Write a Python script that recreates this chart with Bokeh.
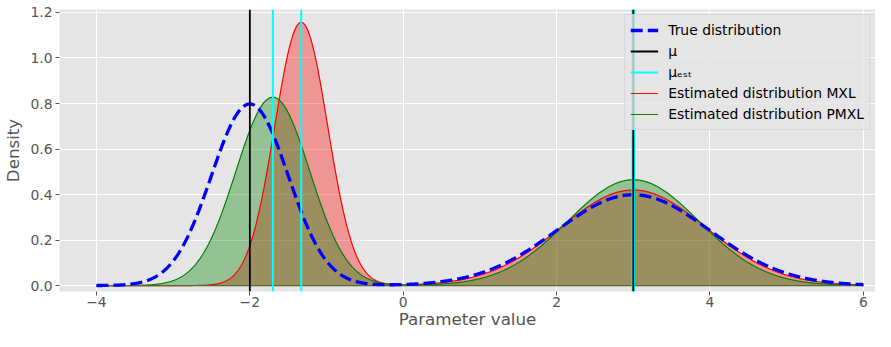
import numpy as np
from bokeh.plotting import figure
from bokeh.models import Range1d, Legend, LegendItem, FixedTicker
from bokeh.embed import file_html
from bokeh.resources import INLINE

# ---- data ----
x_min, x_max = -4.0, 6.0                 # span over which densities are drawn
true_means = [-2.0, 3.0]
true_sds = [0.5, 1.0]
mxl_means = [-1.33, 3.0]
mxl_sds = [0.345, 0.95]
pmxl_means = [-1.70, 3.0]
pmxl_sds = [0.482, 0.858]
mu_values = [-2.0, 3.0]
mu_est_values = [-1.70, -1.33, 2.99, 3.01]

x_ticks = [-4, -2, 0, 2, 4, 6]
x_tick_labels = ["\u22124", "\u22122", "0", "2", "4", "6"]
y_ticks = [0.0, 0.2, 0.4, 0.6, 0.8, 1.0, 1.2]
y_tick_labels = ["0.0", "0.2", "0.4", "0.6", "0.8", "1.0", "1.2"]

legend_labels = ["True distribution", "\u03bc", "\u03bc\u2091\u209b\u209c",
                 "Estimated distribution MXL", "Estimated distribution PMXL"]


def mixture_density(x, means, sds):
    out = np.zeros_like(x)
    for m, s in zip(means, sds):
        out += np.exp(-0.5 * ((x - m) / s) ** 2) / (s * np.sqrt(2 * np.pi))
    return out


xs = np.linspace(x_min, x_max, 2001)
y_true = mixture_density(xs, true_means, true_sds)
y_mxl = mixture_density(xs, mxl_means, mxl_sds)
y_pmxl = mixture_density(xs, pmxl_means, pmxl_sds)

y_lo, y_hi = -0.026, 1.213
p = figure(width=875, height=331, output_backend="svg", toolbar_location=None,
           x_range=Range1d(-4.482, 6.158), y_range=Range1d(y_lo, y_hi),
           min_border_left=58, min_border_right=0, min_border_top=9,
           min_border_bottom=30)
p.background_fill_color = "#E5E5E5"
p.border_fill_color = "white"
p.outline_line_color = None

# grid
p.xgrid.grid_line_color = "white"
p.ygrid.grid_line_color = "white"
p.xgrid.grid_line_width = 1.1
p.ygrid.grid_line_width = 1.1

# fills
p.varea(x=xs, y1=0, y2=y_mxl, fill_color="red", fill_alpha=0.35)
p.varea(x=xs, y1=0, y2=y_pmxl, fill_color="green", fill_alpha=0.35)
r_mxl = p.line(xs, y_mxl, line_color="red", line_width=1.2)
r_pmxl = p.line(xs, y_pmxl, line_color="green", line_width=1.2)
p.line([x_min, x_max], [0, 0], line_color="#556B2F", line_width=1.2)
r_true = p.line(xs, y_true, line_color="blue", line_width=3.3, line_dash="12 5")

# vertical lines
r_est = p.segment(x0=mu_est_values, x1=mu_est_values,
                  y0=[y_lo] * len(mu_est_values), y1=[y_hi] * len(mu_est_values),
                  line_color="cyan", line_width=2)
r_mu = p.segment(x0=mu_values, x1=mu_values,
                 y0=[y_lo] * len(mu_values), y1=[y_hi] * len(mu_values),
                 line_color="black", line_width=1.8)

# axes
font = "DejaVu Sans"
for ax in (p.xaxis[0], p.yaxis[0]):
    ax.axis_line_color = None
    ax.major_tick_in = 0
    ax.major_tick_out = 4
    ax.major_tick_line_color = "#555555"
    ax.minor_tick_line_color = None
    ax.major_label_text_font = font
    ax.major_label_text_font_size = "13.9px"
    ax.major_label_text_color = "#555555"
    ax.axis_label_text_font = font
    ax.axis_label_text_font_size = "16.7px"
    ax.axis_label_text_color = "#555555"
    ax.axis_label_text_font_style = "normal"

p.xaxis.ticker = FixedTicker(ticks=x_ticks)
p.xaxis.major_label_overrides = {float(t): l for t, l in zip(x_ticks, x_tick_labels)}
p.yaxis.ticker = FixedTicker(ticks=y_ticks)
p.yaxis.major_label_overrides = {float(t): l for t, l in zip(y_ticks, y_tick_labels)}
p.xaxis.axis_label = "Parameter value"
p.yaxis.axis_label = "Density"
p.xaxis.major_label_standoff = 1
p.xaxis.axis_label_standoff = -1
p.yaxis.major_label_standoff = 3
p.yaxis.axis_label_standoff = 4

legend = Legend(items=[
    LegendItem(label=legend_labels[0], renderers=[r_true]),
    LegendItem(label=legend_labels[1], renderers=[r_mu]),
    LegendItem(label=legend_labels[2], renderers=[r_est]),
    LegendItem(label=legend_labels[3], renderers=[r_mxl]),
    LegendItem(label=legend_labels[4], renderers=[r_pmxl]),
], location="top_right")
legend.label_text_font = font
legend.label_text_font_size = "13.9px"
legend.label_text_color = "black"
legend.glyph_width = 28
legend.glyph_height = 20
legend.label_height = 20
legend.spacing = 1
legend.padding = 5
legend.label_standoff = 10
legend.margin = 5
legend.background_fill_color = "#E5E5E5"
legend.background_fill_alpha = 0.8
legend.border_line_color = "#CCCCCC"
legend.border_line_width = 1
p.add_layout(legend)

open("out.html", "w").write(file_html(p, INLINE))
